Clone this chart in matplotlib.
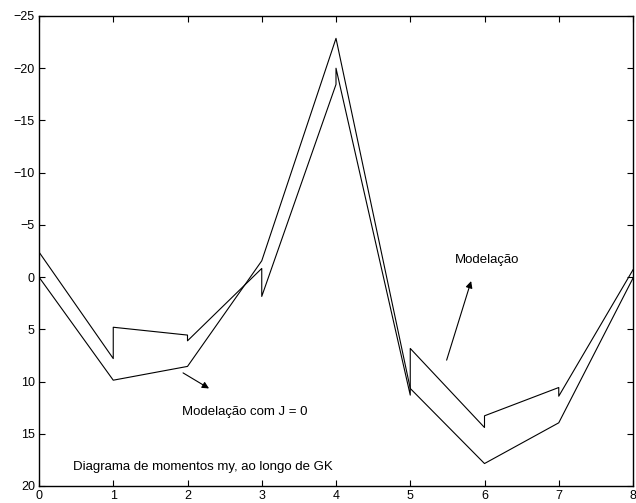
import matplotlib
matplotlib.use("Agg")
import matplotlib.pyplot as plt

plt.rcParams['font.family'] = ['Liberation Sans', 'DejaVu Sans']

# Modelação (with jumps at nodes)
x_mod = [0, 1, 1, 2, 2, 3, 3, 4, 4, 5, 5, 6, 6, 7, 7, 8]
y_mod = [-2.4, 7.8, 4.8, 5.55, 6.1, -0.83, 1.85, -18.45, -20.0, 11.3, 6.83, 14.4, 13.28, 10.57, 11.4, -0.7]

# Modelação com J = 0
x_j0 = [0, 1, 2, 3, 4, 5, 6, 7, 8]
y_j0 = [0.0, 9.87, 8.55, -1.56, -22.86, 10.66, 17.85, 13.95, 0.1]

xticks = [0, 1, 2, 3, 4, 5, 6, 7, 8]
yticks = [-25, -20, -15, -10, -5, 0, 5, 10, 15, 20]

fig = plt.figure(figsize=(6.36, 5.03), dpi=100)
ax = fig.add_axes([39/636, 17/503, 594/636, 470/503])

ax.plot(x_mod, y_mod, color='black', lw=0.8)
ax.plot(x_j0, y_j0, color='black', lw=0.8)

ax.set_xlim(0, 8)
ax.set_ylim(20, -25)
ax.set_xticks(xticks)
ax.set_yticks(yticks)
ax.set_yticklabels(['\u2212%d' % -v if v < 0 else '%d' % v for v in yticks])
ax.tick_params(direction='in', length=4, width=0.8, top=True, right=True,
               labelsize=9, pad=3)
for s in ax.spines.values():
    s.set_linewidth(1.0)

ax.text(5.6, -1.63, 'Modelação', fontsize=9.5, ha='left', va='center')
ax.text(1.92, 12.9, 'Modelação com J = 0', fontsize=9.5, ha='left', va='center')
ax.text(0.46, 18.17, 'Diagrama de momentos my, ao longo de GK', fontsize=9.5,
        ha='left', va='center')

ax.annotate('', xy=(2.29, 10.66), xytext=(1.94, 9.17),
            arrowprops=dict(arrowstyle='-|>', color='black', lw=0.8,
                            mutation_scale=10, shrinkA=0, shrinkB=0))
ax.annotate('', xy=(5.82, 0.38), xytext=(5.49, 7.95),
            arrowprops=dict(arrowstyle='-|>', color='black', lw=0.8,
                            mutation_scale=10, shrinkA=0, shrinkB=0))

fig.savefig('out.png', dpi=100)
